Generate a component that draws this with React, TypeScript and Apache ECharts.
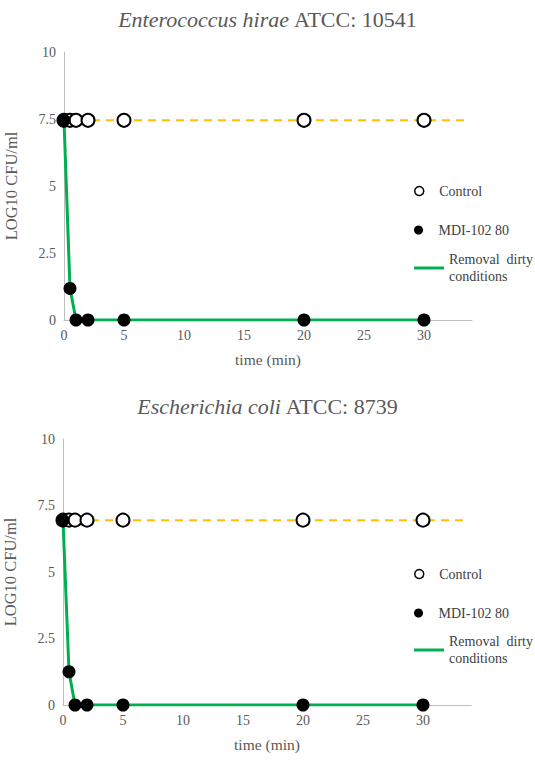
import React, { useEffect, useRef } from "react";
import * as echarts from "echarts";

const controlTimes = [0, 0.5, 1, 2, 5, 20, 30];
const mdiTimes = [0, 0.5, 1, 2, 5, 20, 30];
const controlA = [7.45, 7.45, 7.45, 7.45, 7.45, 7.45, 7.45];
const mdiA = [7.45, 1.18, 0, 0, 0, 0, 0];
const controlB = [6.95, 6.95, 6.95, 6.95, 6.95, 6.95, 6.95];
const mdiB = [6.95, 1.25, 0, 0, 0, 0, 0];
const dashEnd = 33.5;
const yTicks = [0, 2.5, 5, 7.5, 10];
const xTicks = [0, 5, 10, 15, 20, 25, 30];

const FONT = "'Liberation Serif', 'Times New Roman', serif";
const GREY = "#595959";

export default function App() {
  const ref = useRef<HTMLDivElement>(null);
  useEffect(() => {
    const chart = echarts.init(ref.current!, null, { renderer: "svg" });
    const pairs = (xs: number[], ys: number[]) => xs.map((x, i) => [x, ys[i]]);
    const grids = [
      { left: 64, top: 52, width: 408, height: 268, outerBoundsMode: "none", containLabel: false },
      { left: 63, top: 439, width: 408, height: 266, outerBoundsMode: "none", containLabel: false },
    ];
    const datasets = [
      { c: controlA, m: mdiA },
      { c: controlB, m: mdiB },
    ];
    const xAxis = grids.map((_, i) => ({
      type: "value",
      gridIndex: i,
      min: 0,
      max: 34,
      interval: 5,
      name: "time (min)",
      nameLocation: "middle",
      nameGap: 31,
      nameTextStyle: { color: GREY, fontFamily: FONT, fontSize: 15.5 },
      axisLine: { lineStyle: { color: "#bfbfbf" } },
      axisTick: { show: false },
      splitLine: { show: false },
      axisLabel: {
        color: GREY,
        fontFamily: FONT,
        fontSize: 14,
        showMaxLabel: false,
        formatter: (v: number) => (xTicks.includes(v) ? String(v) : ""),
      },
    }));
    const yAxis = grids.map((_, i) => ({
      type: "value",
      gridIndex: i,
      min: 0,
      max: 10,
      interval: 2.5,
      name: "LOG10 CFU/ml",
      nameLocation: "middle",
      nameGap: 44,
      nameTextStyle: { color: GREY, fontFamily: FONT, fontSize: 16.5 },
      axisLine: { show: true, lineStyle: { color: "#bfbfbf" } },
      axisTick: { show: false },
      splitLine: { show: false },
      axisLabel: {
        color: GREY,
        fontFamily: FONT,
        fontSize: 14,
        margin: 8,
        formatter: (v: number) => (yTicks.includes(v) ? String(v) : ""),
      },
    }));
    const series: any[] = [];
    datasets.forEach((d, i) => {
      series.push({
        name: "dash",
        type: "line",
        xAxisIndex: i,
        yAxisIndex: i,
        data: [[0, d.c[0]], [dashEnd, d.c[0]]],
        symbol: "none",
        lineStyle: { color: "#ffc000", width: 2, type: [8, 6] },
        z: 1,
        silent: true,
      });
      series.push({
        name: "Removal dirty conditions",
        type: "line",
        xAxisIndex: i,
        yAxisIndex: i,
        data: pairs(mdiTimes, d.m),
        symbol: "none",
        lineStyle: { color: "#00b050", width: 3 },
        itemStyle: { color: "#00b050" },
        z: 2,
      });
      series.push({
        name: "Control",
        type: "scatter",
        xAxisIndex: i,
        yAxisIndex: i,
        data: pairs(controlTimes, d.c),
        symbolSize: 13,
        itemStyle: { color: "#ffffff", borderColor: "#000000", borderWidth: 2, opacity: 1 },
        z: 3,
      });
      series.push({
        name: "MDI-102 80",
        type: "scatter",
        xAxisIndex: i,
        yAxisIndex: i,
        data: pairs(mdiTimes, d.m),
        symbolSize: 13,
        itemStyle: { color: "#000000", opacity: 1 },
        z: 4,
      });
    });
    const legendText = { color: "#404040", fontFamily: FONT, fontSize: 14 };
    const legendsFor = (tops: number[]) => [
      {
        data: [{ name: "Control", itemStyle: { borderWidth: 1.5 } }],
        left: 409,
        top: tops[0] - 10,
        itemWidth: 30,
        itemHeight: 9,
        itemGap: 5,
        textStyle: legendText,
        selectedMode: false,
      },
      {
        data: ["MDI-102 80"],
        left: 409,
        top: tops[1] - 10,
        itemWidth: 30,
        itemHeight: 9,
        itemGap: 5,
        textStyle: legendText,
        selectedMode: false,
      },
      {
        data: [{ name: "Removal dirty conditions", icon: "rect" }],
        left: 409,
        top: tops[2] - 27,
        itemWidth: 30,
        itemHeight: 3,
        itemGap: 5,
        formatter: () => "Removal  dirty\nconditions",
        textStyle: { ...legendText, lineHeight: 17, padding: [12, 0, 0, 0] },
        selectedMode: false,
      },
    ];
    const titleRich = {
      i: { fontFamily: FONT, fontStyle: "italic", fontWeight: "normal", fontSize: 22, color: GREY },
      n: { fontFamily: FONT, fontWeight: "normal", fontSize: 22, color: GREY },
    };
    chart.setOption({
      animation: false,
      backgroundColor: "#ffffff",
      title: [
        {
          text: "{i|Enterococcus hirae} {n|ATCC: 10541}",
          left: "center",
          top: 3,
          textStyle: { fontWeight: "normal", rich: titleRich },
        },
        {
          text: "{i|Escherichia coli} {n|ATCC: 8739}",
          left: "center",
          top: 390,
          textStyle: { fontWeight: "normal", rich: titleRich },
        },
      ],
      legend: [...legendsFor([189, 228, 267]), ...legendsFor([572, 611, 649])],
      grid: grids,
      xAxis,
      yAxis,
      series,
    });
    return () => chart.dispose();
  }, []);
  return (
    <div
      ref={ref}
      style={{ position: "absolute", left: 0, top: 0, width: 535, height: 762 }}
    />
  );
}
